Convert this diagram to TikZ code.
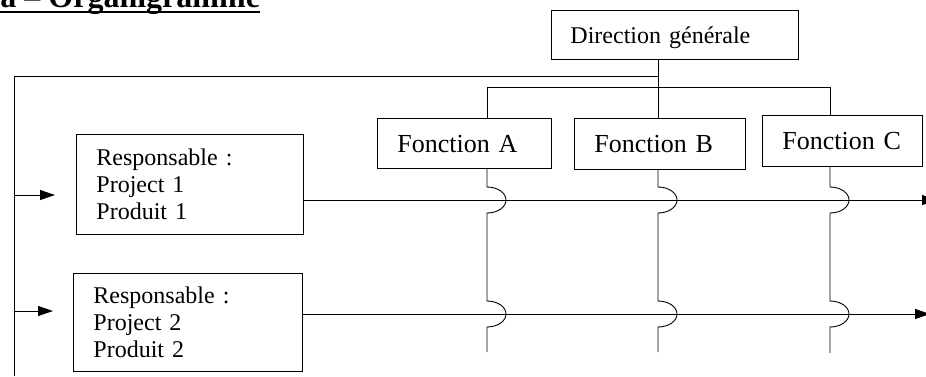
\documentclass[tikz,border=0pt]{standalone}
\usepackage{fontspec}
\setmainfont{Liberation Serif}
\usetikzlibrary{arrows.meta,calc}
\begin{document}
\begin{tikzpicture}[x=1pt,y=-1pt,
  line width=0.9pt,
  box/.style={draw, line width=0.9pt, inner xsep=20pt, inner ysep=0pt,
    align=left, anchor=north west},
  bigtxt/.style={font=\fontsize{24}{26.8}\selectfont},
  fntxt/.style={font=\fontsize{26}{29}\selectfont},
  arr/.style={-{Triangle[length=15pt,width=10pt]}},
  hop/.style={start angle=90, end angle=-90, x radius=19pt, y radius=13pt}
]
\useasboundingbox (0,0) rectangle (926,376);

% title
\node[font=\bfseries\fontsize{32}{36}\selectfont, inner sep=0pt, anchor=base west]
  (title) at (0,7) {a – Organigramme};
\draw[line width=2.5pt] ($(title.base west)+(0,5)$) -- ($(title.base east)+(0,5)$);

% boxes
\node[box, bigtxt, inner xsep=19pt, text width=209pt, minimum height=49pt,
  text height=20pt, text depth=3pt] (dg) at (551,10) {Direction générale};
\node[box, fntxt, text width=134pt, minimum height=50pt,
  text height=22pt, text depth=4pt] (fa) at (377,118) {Fonction A};
\node[box, fntxt, text width=131pt, minimum height=51pt,
  text height=22pt, text depth=4pt] (fb) at (574,118) {Fonction B};
\node[box, fntxt, text width=120pt, minimum height=51pt,
  text height=21pt, text depth=4pt] (fc) at (762,115) {Fonction C};
\node[box, bigtxt, text width=187pt, minimum height=100pt] (r1) at (76,134)
  {Responsable :\\Project 1\\Produit 1};
\node[box, bigtxt, text width=189pt, minimum height=98pt] (r2) at (73,273)
  {Responsable :\\Project 2\\Produit 2};

% reference points
\coordinate (corner) at (14,76);
\coordinate (lbot) at (14,376);
\coordinate (bus) at (0,87);
\coordinate (a1) at (55,195);
\coordinate (a2) at (53,311);
\coordinate (e1) at (937,200);
\coordinate (e2) at (930,314);
\coordinate (va) at (487,352);
\coordinate (vb) at (658,352);
\coordinate (vc) at (830,353);

% hierarchy lines
\draw (vb |- dg.south) -- (vb |- fb.north);
\draw (vb |- corner) -- (corner) -- (lbot);
\draw (va |- fa.north) -- (va |- bus) -- (vc |- bus) -- (vc |- fc.north);

% project arrows
\draw[arr] (corner |- a1) -- (a1);
\draw[arr] (corner |- a2) -- (a2);
\draw[arr] (r1.east |- e1) -- (e1);
\draw[arr] (r2.east |- e2) -- (e2);

% function lines hopping over the project lines
\draw (va |- fa.south) -- ($(va |- e1)+(0,-13)$) arc[hop]
  -- ($(va |- e2)+(0,-13)$) arc[hop] -- (va);
\draw (vb |- fb.south) -- ($(vb |- e1)+(0,-13)$) arc[hop]
  -- ($(vb |- e2)+(0,-13)$) arc[hop] -- (vb);
\draw (vc |- fc.south) -- ($(vc |- e1)+(0,-13)$) arc[hop]
  -- ($(vc |- e2)+(0,-13)$) arc[hop] -- (vc);
\end{tikzpicture}
\end{document}
